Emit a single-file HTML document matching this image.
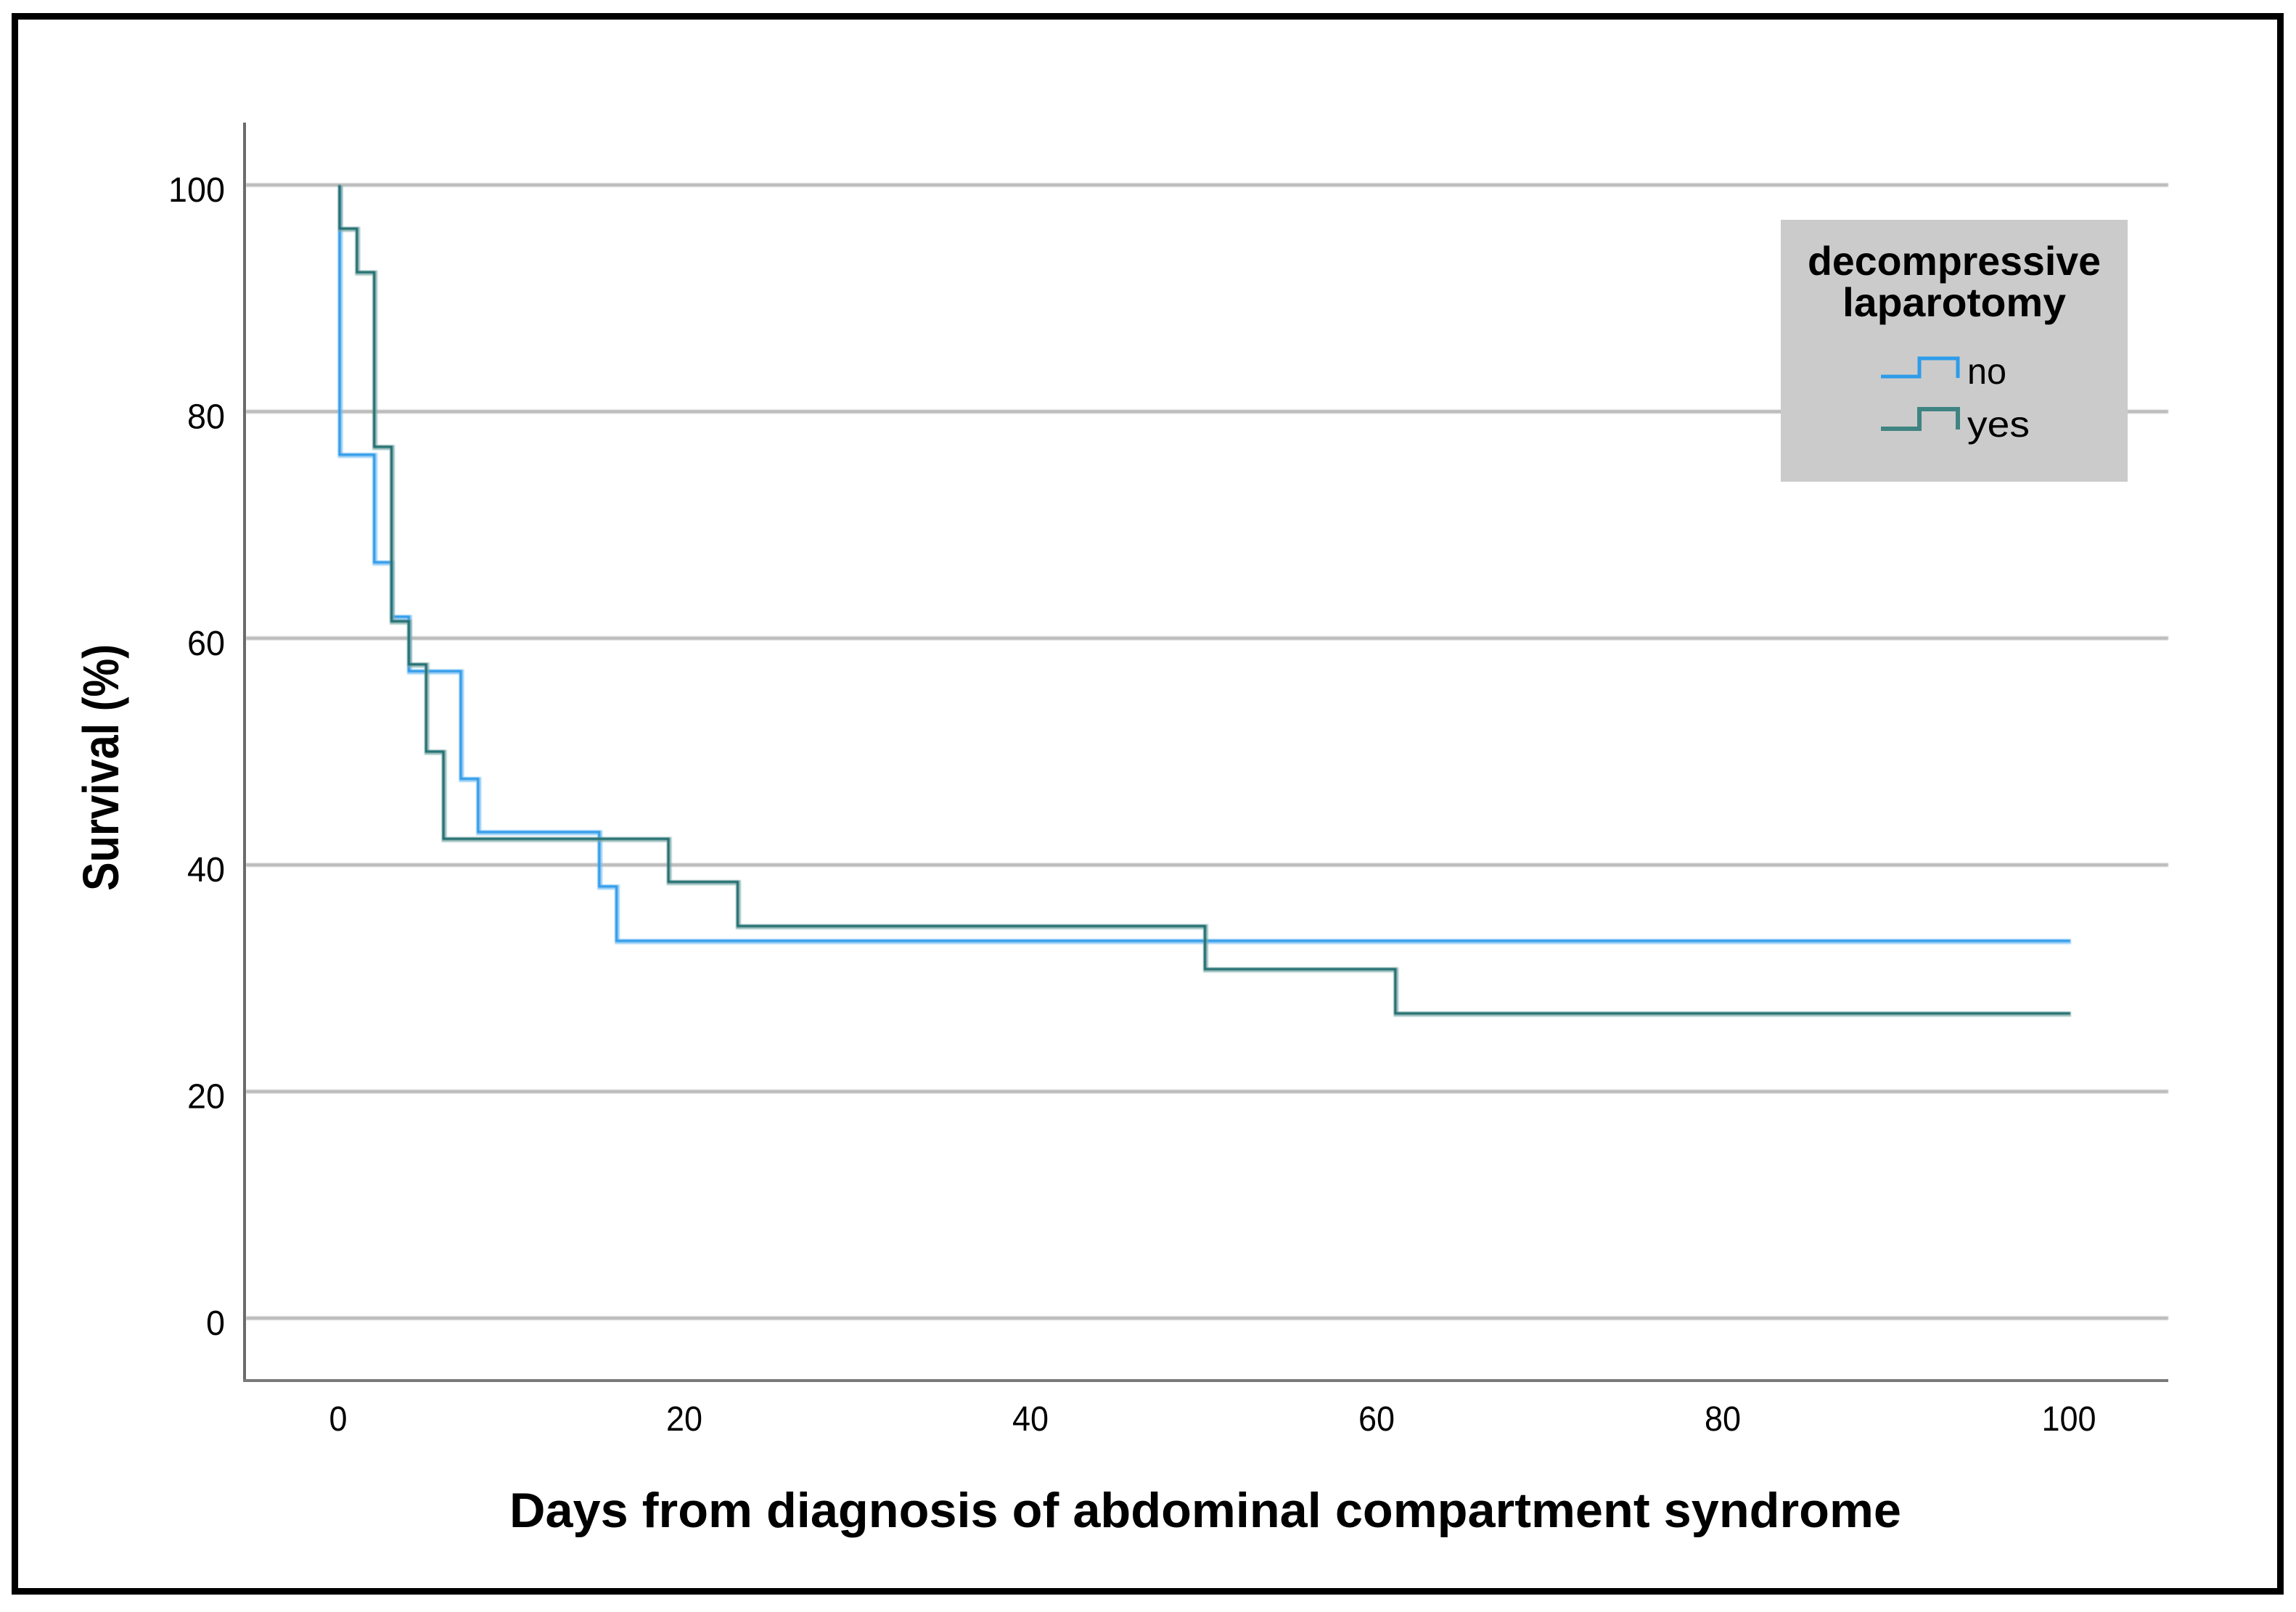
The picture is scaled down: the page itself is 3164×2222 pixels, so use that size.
<!DOCTYPE html>
<html lang="en">
<head>
<meta charset="utf-8">
<title>Survival by decompressive laparotomy</title>
<style>
html,body{margin:0;padding:0;background:#fff;width:3164px;height:2222px;overflow:hidden}
svg{display:block}
text{font-family:"Liberation Sans",sans-serif;fill:#000}
</style>
</head>
<body>
<svg id="chart" xmlns="http://www.w3.org/2000/svg" width="3164" height="2222" viewBox="0 0 3164 2222">
  <defs>
    <filter id="soft" x="-5%" y="-5%" width="110%" height="110%"><feGaussianBlur stdDeviation="0.7"/></filter>
  </defs>
  <rect x="20.5" y="22.5" width="3122" height="2171" fill="#fff" stroke="#000" stroke-width="9"/>
  <g id="grid" filter="url(#soft)"></g>
  <line x1="337" y1="169" x2="337" y2="1905" stroke="#6b6b6b" stroke-width="4"/>
  <line x1="335" y1="1903" x2="2988" y2="1903" stroke="#7a7a7a" stroke-width="4"/>
  <g id="yticks"></g>
  <g id="xticks"></g>
  <text transform="translate(163,1228) rotate(-90)" font-size="70" font-weight="bold" textLength="340" lengthAdjust="spacingAndGlyphs">Survival (%)</text>
  <text x="702" y="2105" font-size="68" font-weight="bold" textLength="1918" lengthAdjust="spacingAndGlyphs">Days from diagnosis of abdominal compartment syndrome</text>

  <g>
    <rect x="2454" y="303" width="478" height="361" fill="#cbcbcb"/>
    <text x="2693" y="379" font-size="56" font-weight="bold" text-anchor="middle" textLength="404" lengthAdjust="spacingAndGlyphs">decompressive</text>
    <text x="2693" y="436" font-size="56" font-weight="bold" text-anchor="middle" textLength="308" lengthAdjust="spacingAndGlyphs">laparotomy</text>
    <path d="M2592 519H2645V494H2698V521" fill="none" stroke="#2e9cea" stroke-width="5"/>
    <text x="2711" y="529" font-size="50" textLength="54" lengthAdjust="spacingAndGlyphs">no</text>
    <path d="M2592 591H2645V564H2698V592" fill="none" stroke="#3f8482" stroke-width="6"/>
    <text x="2711" y="602" font-size="50" textLength="86" lengthAdjust="spacingAndGlyphs">yes</text>
  </g>
  <g id="series" filter="url(#soft)"></g>
</svg>
<script>
var yTickValues = [0, 20, 40, 60, 80, 100];
var xTickValues = [0, 20, 40, 60, 80, 100];
var noDays = [0, 0, 2, 3, 4, 7, 8, 15, 16, 100];
var noSurvival = [100, 76.2, 66.7, 61.9, 57.1, 47.6, 42.9, 38.1, 33.3, 33.3];
var yesDays = [0, 0, 1, 2, 3, 4, 5, 6, 19, 23, 50, 61, 100];
var yesSurvival = [100, 96.15, 92.3, 76.9, 61.5, 57.7, 50, 42.3, 38.5, 34.6, 30.8, 26.9, 26.9];

var NS = 'http://www.w3.org/2000/svg';
function xScale(day) { return 468 + day * 23.85; }
function yScale(pct) { return 1817 - pct * 15.62; }

var gridGroup = document.getElementById('grid');
var yTickGroup = document.getElementById('yticks');
var xTickGroup = document.getElementById('xticks');
var seriesGroup = document.getElementById('series');

yTickValues.forEach(function (v) {
  var line = document.createElementNS(NS, 'line');
  
  
  line.setAttribute('x1', 339);
  line.setAttribute('x2', 2988);
  line.setAttribute('y1', yScale(v));
  line.setAttribute('y2', yScale(v));
  line.setAttribute('stroke', '#bcbcbc');
  line.setAttribute('stroke-width', 5);
  gridGroup.appendChild(line);

  var label = document.createElementNS(NS, 'text');
  
  
  label.setAttribute('x', 310);
  label.setAttribute('y', yScale(v) + 23);
  label.setAttribute('font-size', 48);
  label.setAttribute('text-anchor', 'end');
  label.setAttribute('textLength', String(v).length * 26);
  label.setAttribute('lengthAdjust', 'spacingAndGlyphs');
  label.textContent = String(v);
  yTickGroup.appendChild(label);
});

xTickValues.forEach(function (v) {
  var label = document.createElementNS(NS, 'text');
  
  
  label.setAttribute('x', xScale(v) - 2);
  label.setAttribute('y', 1972);
  label.setAttribute('font-size', 48);
  label.setAttribute('text-anchor', 'middle');
  label.setAttribute('textLength', String(v).length * 25);
  label.setAttribute('lengthAdjust', 'spacingAndGlyphs');
  label.textContent = String(v);
  xTickGroup.appendChild(label);
});

function stepPath(days, values) {
  var d = 'M' + xScale(days[0]) + ' ' + yScale(values[0]);
  for (var i = 1; i < days.length; i++) {
    d += 'H' + xScale(days[i]) + 'V' + yScale(values[i]);
  }
  return d;
}

function drawCurve(name, days, values, core, halo) {
  var under = document.createElementNS(NS, 'path');
  
  
  under.setAttribute('d', stepPath(days, values));
  under.setAttribute('fill', 'none');
  under.setAttribute('stroke', halo);
  under.setAttribute('stroke-width', 7);
  under.setAttribute('stroke-opacity', 0.7);
  under.setAttribute('transform', 'translate(1,1)');
  seriesGroup.appendChild(under);

  var path = document.createElementNS(NS, 'path');
  
  
  path.setAttribute('d', stepPath(days, values));
  path.setAttribute('fill', 'none');
  path.setAttribute('stroke', core);
  path.setAttribute('stroke-width', 3.5);
  seriesGroup.appendChild(path);
}

drawCurve('curve-no', noDays, noSurvival, '#2e9cea', '#7cc2f3');
drawCurve('curve-yes', yesDays, yesSurvival, '#1f6e70', '#7fadab');
</script>
</body>
</html>
